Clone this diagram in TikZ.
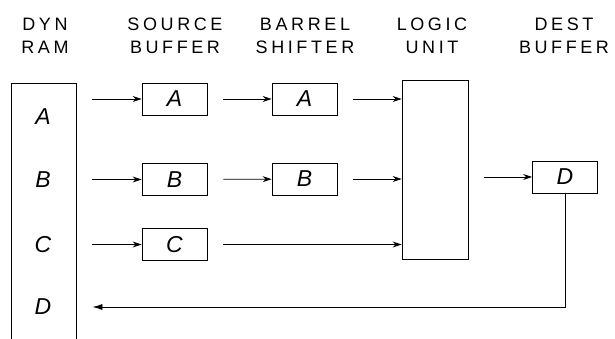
\documentclass[tikz,border=0pt]{standalone}
\usepackage{fontspec}
\setmainfont{Liberation Sans}
\newfontfamily\hdfont[LetterSpace=20]{Liberation Sans}
\usetikzlibrary{arrows.meta}

\begin{document}
\begin{tikzpicture}[x=1pt,y=-1pt,line width=0.8pt,
    hd/.style={align=center,inner sep=0pt,font=\fontsize{18}{23}\selectfont\hdfont},
    box/.style={draw,minimum width=65pt,minimum height=32pt,inner sep=0pt},
    lt/.style={font=\fontsize{23}{23}\selectfont\itshape}]
    \useasboundingbox (0,0) rectangle (615,338);
    \node[hd] (H0) at (45,36) {DYN\\RAM};
    \node[hd] (H1) at (175,36) {SOURCE\\BUFFER};
    \node[hd] (H2) at (305,36) {BARREL\\SHIFTER};
    \node[hd] (H3) at (432,36) {LOGIC\\UNIT};
    \node[hd] (H4) at (564,36) {DEST\\BUFFER};
    \node[draw,minimum width=65pt,minimum height=270pt] (ram) at (43.5,218) {};
    \node[lt] (R0) at (43,117) {A};
    \node[lt] (R1) at (43,180) {B};
    \node[lt] (R2) at (43,245) {C};
    \node[lt] (R3) at (43,307) {D};
    \node[box,lt] (S0) at (174.5,99) {A};
    \node[box,lt] (S1) at (174.5,179.5) {B};
    \node[box,lt] (S2) at (174.5,244.5) {C};
    \node[box,lt] (B0) at (304.5,99) {A};
    \node[box,lt] (B1) at (304.5,179) {B};
    \node[draw,minimum width=66pt,minimum height=179pt] (L) at (435,169.5) {};
    \node[box,lt] (D) at (565,177) {D};
    \path[-{Stealth[length=9pt,width=6pt,inset=3pt]},shorten <=16pt]
      (ram.east |- S0) edge (S0)
      (ram.east |- S1) edge (S1)
      (ram.east |- S2) edge (S2)
      (S0) edge (B0)
      (S1) edge (B1)
      (B0) edge (B0 -| L.west)
      (B1) edge (B1 -| L.west)
      (S2) edge (S2 -| L.west)
      (L.east |- D) edge (D);
    \draw[-{Latex[length=10pt,width=6pt]},shorten >=16pt]
      (D.south) -- (D.south |- R3) -- (ram.east |- R3);
  \end{tikzpicture}
\end{document}
